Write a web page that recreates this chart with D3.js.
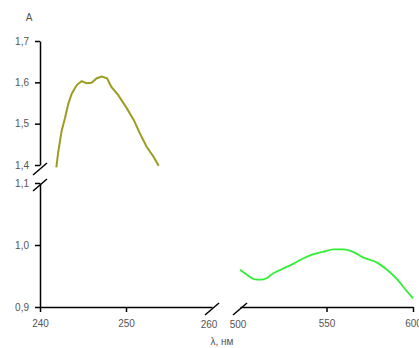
<!DOCTYPE html>
<html>
<head>
<meta charset="utf-8">
<script src="https://cdn.jsdelivr.net/npm/d3@7"></script>
<style>
  html, body { margin: 0; padding: 0; background: #fff; }
  svg { display: block; }
  .axis text { font-family: "Liberation Sans", Arial, sans-serif; font-size: 10px; fill: #555; }
  .axis line, .axis path { stroke: #000; stroke-width: 1.5; }
  .lbl { font-family: "Liberation Sans", Arial, sans-serif; font-size: 10px; fill: #555; }
</style>
</head>
<body>
<svg id="chart" width="419" height="348"></svg>
<script>
// UV band (left panel) and visible band (right panel)
const uvWavelength = [241.9, 242.1, 242.5, 242.9, 243.3, 243.7, 244.3, 244.85, 245.4, 246.0, 246.6, 247.2, 247.8, 248.3, 249.1, 250.1, 250.9, 251.6, 252.4, 253.2, 253.8];
const uvAbsorbance = [1.394, 1.428, 1.481, 1.513, 1.549, 1.573, 1.594, 1.603, 1.598, 1.599, 1.610, 1.614, 1.610, 1.589, 1.569, 1.537, 1.509, 1.477, 1.444, 1.420, 1.398];

const visWavelength = [500, 504, 508, 512, 515, 519, 525, 531, 537, 542, 548, 554, 560, 566, 571, 579, 585, 591, 596, 600];
const visAbsorbance = [0.960, 0.952, 0.945, 0.944, 0.946, 0.954, 0.962, 0.970, 0.979, 0.985, 0.989, 0.993, 0.993, 0.988, 0.980, 0.972, 0.960, 0.944, 0.927, 0.914];

const xTicksLeft = [240, 250, 260];
const xTicksRight = [500, 550, 600];
const yTicksTop = [1.4, 1.5, 1.6, 1.7];
const yTicksBottom = [0.9, 1.0, 1.1];

const svg = d3.select("#chart");

const xLeft = d3.scaleLinear().domain([240, 260]).range([40, 212]);
const xRight = d3.scaleLinear().domain([500, 600]).range([240, 413]);
const yTop = d3.scaleLinear().domain([1.4, 1.7]).range([165, 41]);
const yBottom = d3.scaleLinear().domain([0.9, 1.1]).range([307, 183]);

const comma = d => d3.format(".1f")(d).replace(".", ",");

// y axes (upper and lower segments)
svg.append("g").attr("class", "axis").attr("transform", "translate(40,0)")
  .call(d3.axisLeft(yTop).tickValues(yTicksTop).tickFormat(comma).tickSize(5).tickSizeOuter(0).tickPadding(6));
svg.append("g").attr("class", "axis").attr("transform", "translate(40,0)")
  .call(d3.axisLeft(yBottom).tickValues(yTicksBottom).tickFormat(comma).tickSize(5).tickSizeOuter(0).tickPadding(6));

// x axes (left and right segments)
svg.append("g").attr("class", "axis").attr("transform", "translate(0,307)")
  .call(d3.axisBottom(xLeft).tickValues(xTicksLeft.slice(0, 2)).tickSize(5).tickSizeOuter(0).tickPadding(8));
svg.append("g").attr("class", "axis").attr("transform", "translate(0,307)")
  .call(d3.axisBottom(xRight).tickValues(xTicksRight.slice(1)).tickSize(5).tickSizeOuter(0).tickPadding(8));

// labels at the break positions
svg.append("text").attr("class", "lbl").attr("x", xLeft(260) - 3).attr("y", 328)
  .attr("text-anchor", "middle").text(xTicksLeft[2]);
svg.append("text").attr("class", "lbl").attr("x", xRight(500) - 2).attr("y", 328)
  .attr("text-anchor", "middle").text(xTicksRight[0]);

// break marks
const slash = (cx, cy) => svg.append("line")
  .attr("x1", cx - 7).attr("y1", cy + 6).attr("x2", cx + 7).attr("y2", cy - 6)
  .attr("stroke", "#000").attr("stroke-width", 1.5);
slash(40, 169);
slash(40, 185);
slash(xLeft(260), 309);
slash(xRight(500), 309);

// spectra
const uvLine = d3.line().x((d, i) => xLeft(uvWavelength[i])).y(d => yTop(d));
svg.append("path").datum(uvAbsorbance).attr("d", uvLine)
  .attr("fill", "none").attr("stroke", "#9c9c22").attr("stroke-width", 2);

const visLine = d3.line().x((d, i) => xRight(visWavelength[i])).y(d => yBottom(d)).curve(d3.curveMonotoneX);
svg.append("path").datum(visAbsorbance).attr("d", visLine)
  .attr("fill", "none").attr("stroke", "#33ee33").attr("stroke-width", 1.8);

// axis titles
svg.append("text").attr("class", "lbl").attr("x", 29).attr("y", 21)
  .attr("text-anchor", "middle").text("A");
svg.append("text").attr("class", "lbl").attr("x", 222).attr("y", 345)
  .attr("text-anchor", "middle").text("λ, нм");
</script>
</body>
</html>
